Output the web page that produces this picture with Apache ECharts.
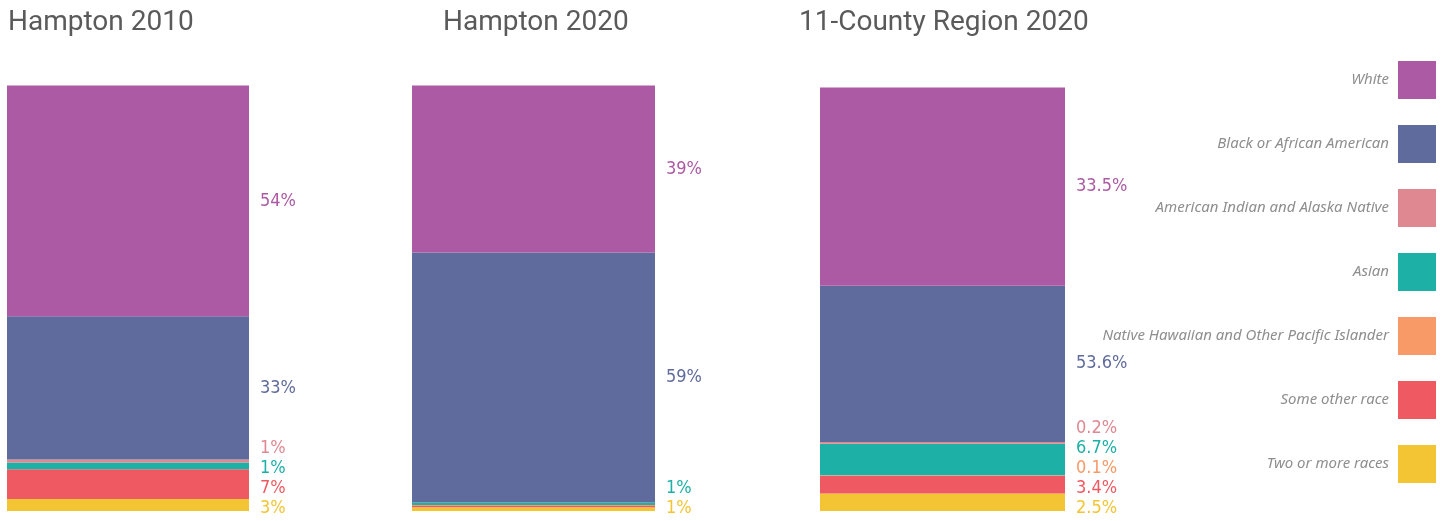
<!DOCTYPE html>
<html>
<head>
    <meta charset="utf-8">
    <script src="https://cdn.jsdelivr.net/npm/echarts@6/dist/echarts.min.js"></script>
    <style>body{margin:0;background:#fff;}</style>
</head>
<body>
    <div id="main" style="width: 1445px;height:521px;"></div>
    <script type="text/javascript">

    var races = ['White', 'Black or African American', 'American Indian and Alaska Native', 'Asian',
        'Native Hawaiian and Other Pacific Islander', 'Some other race', 'Two or more races'];
    var colors = ['#ac5aa4', '#5f6b9c', '#e08891', '#1cb0a6', '#f79a67', '#ef5961', '#f3c433'];
    var titles = ['Hampton 2010', 'Hampton 2020', '11-County Region 2020'];

    // segment sizes (as drawn) and the label texts shown beside them
    var hampton2010 = [54.2, 33.6, 0.7, 1.6, 0, 7.0, 2.8];
    var hampton2020 = [39.2, 58.7, 0, 0.6, 0.2, 0.3, 0.9];
    var region2020 = [46.5, 36.7, 0.4, 7.4, 0.1, 4.2, 4.1];
    var hampton2010Labels = ['54%', '33%', '1%', '1%', '', '7%', '3%'];
    var hampton2020Labels = ['39%', '59%', '', '1%', '', '', '1%'];
    var region2020Labels = ['33.5%', '53.6%', '0.2%', '6.7%', '0.1%', '3.4%', '2.5%'];

    var bars = [hampton2010, hampton2020, region2020];
    var barLabels = [hampton2010Labels, hampton2020Labels, region2020Labels];

    var gridLeft = [7, 412, 820];
    var gridWidth = [242, 243, 245];
    var titleLeft = [8, 443, 799];

    var labelY = null;

    var myChart = echarts.init(document.getElementById('main'));

    function makeOption() {
        var grids = [], xAxes = [], yAxes = [], series = [], titleList = [];
        for (var g = 0; g < 3; g++) {
            grids.push({left: gridLeft[g], width: gridWidth[g], top: 85, bottom: 10});
            xAxes.push({type: 'category', gridIndex: g, data: [titles[g]], show: false});
            yAxes.push({type: 'value', gridIndex: g, min: 0, max: 100, show: false});
            titleList.push({
                text: titles[g], left: titleLeft[g], top: 9, padding: 0,
                textStyle: {fontFamily: 'Roboto', fontWeight: 'normal', fontSize: 28, color: '#5a5a5a'}
            });
            // bottom segment first so White ends up on top
            for (var r = races.length - 1; r >= 0; r--) {
                (function (g, r) {
                    var text = barLabels[g][r];
                    series.push({
                        name: races[r],
                        type: 'bar',
                        stack: 'bar' + g,
                        xAxisIndex: g,
                        yAxisIndex: g,
                        barWidth: '100%',
                        itemStyle: {color: colors[r]},
                        label: {
                            show: text !== '',
                            position: 'right',
                            distance: 11,
                            formatter: text,
                            color: colors[r],
                            fontFamily: "'DejaVu Sans Condensed', 'DejaVu Sans'",
                            fontWeight: 'normal condensed',
                            fontSize: 18,
                            verticalAlign: 'middle'
                        },
                        labelLayout: function () {
                            if (labelY && labelY[g][r] != null) {
                                return {y: labelY[g][r]};
                            }
                            return {};
                        },
                        data: [bars[g][r]]
                    });
                })(g, r);
            }
        }
        return {
            animation: false,
            title: titleList,
            legend: {
                data: races,
                orient: 'vertical',
                right: 9,
                top: 61,
                padding: 0,
                align: 'right',
                icon: 'rect',
                itemWidth: 38,
                itemHeight: 38,
                itemGap: 26,
                textStyle: {
                    fontFamily: "'Noto Sans'",
                    fontStyle: 'italic',
                    fontWeight: 'normal',
                    fontSize: 15,
                    color: '#8e8e8e',
                    padding: [0, 4, 0, 0]
                }
            },
            grid: grids,
            xAxis: xAxes,
            yAxis: yAxes,
            series: series
        };
    }

    myChart.setOption(makeOption());

    // spread labels of each bar so they do not overlap, like a shiftY layout
    var gap = 20, maxBottom = 508.5;
    labelY = [];
    for (var g = 0; g < 3; g++) {
        var items = [], cum = 0;
        for (var r = races.length - 1; r >= 0; r--) {
            var v = bars[g][r];
            var mid = myChart.convertToPixel({gridIndex: g}, [0, cum + v / 2])[1];
            cum += v;
            if (barLabels[g][r] !== '') items.push({r: r, y: mid});
        }
        items.sort(function (a, b) { return a.y - b.y; });
        for (var i = 1; i < items.length; i++) {
            if (items[i].y < items[i - 1].y + gap) items[i].y = items[i - 1].y + gap;
        }
        var last = items.length - 1;
        if (items[last].y > maxBottom) {
            items[last].y = maxBottom;
            for (var i = last - 1; i >= 0; i--) {
                if (items[i].y > items[i + 1].y - gap) items[i].y = items[i + 1].y - gap;
            }
        }
        labelY[g] = {};
        items.forEach(function (it) { labelY[g][it.r] = it.y; });
    }
    myChart.setOption(makeOption(), true);

    </script>
</body>
</html>
